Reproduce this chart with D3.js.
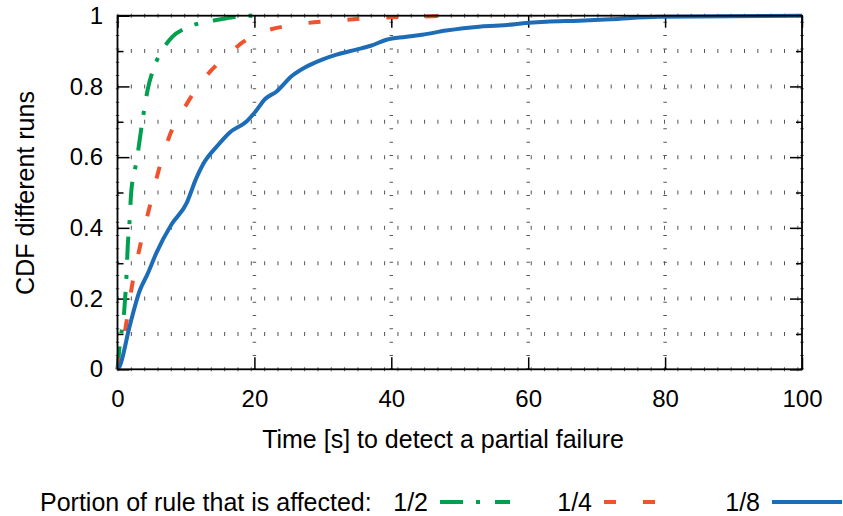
<!DOCTYPE html>
<html>
<head>
<meta charset="utf-8">
<title>CDF partial failure</title>
<script src="https://d3js.org/d3.v7.min.js"></script>
<style>
  body { margin: 0; background: #fff; }
  text { font-family: "Liberation Sans", Arial, sans-serif; }
</style>
</head>
<body>
<script>
// values: time [s] and CDF for each series
var halfTime = [0, 0.3, 1.0, 1.3, 1.5, 1.75, 2.0, 2.8, 3.7, 4.4, 5.4, 6.6, 8.0, 10.1, 13.0, 14.9, 17.4, 19.7];
var halfCdf  = [0, 0.065, 0.17, 0.26, 0.35, 0.415, 0.5, 0.59, 0.71, 0.79, 0.857, 0.904, 0.94, 0.966, 0.983, 0.989, 0.997, 1.0];

var quarterTime = [0, 0.4, 1.2, 2.2, 3.2, 4.7, 5.7, 7.6, 10.1, 13.0, 16.6, 18.3, 20.7, 26.1, 32.0, 37.8, 43.0, 49.0];
var quarterCdf  = [0, 0.03, 0.12, 0.245, 0.34, 0.46, 0.54, 0.66, 0.75, 0.83, 0.897, 0.925, 0.95, 0.975, 0.986, 0.994, 0.997, 1.0];

var eighthTime = [0, 0.3, 1.75, 3.2, 4.4, 5.7, 7.9, 10.1, 11.5, 12.5, 14.5, 16.4, 18.8, 20.2, 21.6, 23.2, 25.5, 27.5, 29.9, 32, 34.9, 37, 39.3, 42, 44.5, 48, 52.8, 55.8, 60.1, 62.6, 67.4, 72, 79, 100];
var eighthCdf  = [0, 0.008, 0.12, 0.22, 0.27, 0.33, 0.41, 0.47, 0.54, 0.58, 0.63, 0.67, 0.70, 0.73, 0.765, 0.785, 0.83, 0.855, 0.876, 0.89, 0.904, 0.915, 0.932, 0.94, 0.946, 0.958, 0.969, 0.972, 0.98, 0.983, 0.986, 0.99, 0.997, 1.0];

var xTicks = [0, 20, 40, 60, 80, 100];
var yTicks = [0, 0.2, 0.4, 0.6, 0.8, 1];
var yMinor = [0.1, 0.3, 0.5, 0.7, 0.9];
var yGrid = d3.range(0, 11).map(function(i) { return i / 10; });

var seriesNames = ["1/2", "1/4", "1/8"];
var seriesColors = ["#00a04e", "#f0522e", "#1c6cb8"];
var seriesDash = ["23,13,4,15", "12,27", null];

var w = 843, h = 516;
var pLeft = 117.5, pRight = 802, pTop = 15.7, pBottom = 369.3;

var svg = d3.select("body").append("svg")
    .attr("width", w)
    .attr("height", h);

var x = d3.scaleLinear().domain([0, 100]).range([pLeft, pRight]);
var y = d3.scaleLinear().domain([0, 1]).range([pBottom, pTop]);

// dotted grid: short marks spaced ~13px
var grid = svg.append("g").attr("stroke", "#555").attr("fill", "none");
grid.selectAll("line.h").data(yGrid).enter().append("line")
    .attr("class", "h")
    .attr("x1", pLeft).attr("x2", pRight)
    .attr("y1", function(d) { return y(d); })
    .attr("y2", function(d) { return y(d); })
    .attr("stroke-width", 4)
    .attr("stroke-dasharray", "1,12.33");
grid.selectAll("line.v").data(xTicks).enter().append("line")
    .attr("class", "v")
    .attr("y1", pBottom).attr("y2", pTop)
    .attr("x1", function(d) { return x(d); })
    .attr("x2", function(d) { return x(d); })
    .attr("stroke-width", 3.5)
    .attr("stroke-dasharray", "1,12.33");

// axes with inward ticks
function styleAxis(g) {
    g.attr("font-family", null).attr("font-size", null);
    g.select(".domain").remove();
    g.selectAll("line").attr("stroke", "#000").attr("stroke-width", 1.5);
    g.selectAll("text").attr("font-size", "24px").attr("fill", "#000");
}

svg.append("g")
    .attr("transform", "translate(0," + pBottom + ")")
    .call(d3.axisBottom(x).tickValues(xTicks).tickSize(-12).tickPadding(21).tickFormat(d3.format("d")))
    .call(styleAxis);
svg.append("g")
    .attr("transform", "translate(0," + pTop + ")")
    .call(d3.axisTop(x).tickValues(xTicks).tickSize(-12).tickFormat(""))
    .call(styleAxis);
svg.append("g")
    .attr("transform", "translate(" + pLeft + ",0)")
    .call(d3.axisLeft(y).tickValues(yTicks).tickSize(-12).tickPadding(14.5).tickFormat(d3.format("~g")))
    .call(styleAxis);
svg.append("g")
    .attr("transform", "translate(" + pRight + ",0)")
    .call(d3.axisRight(y).tickValues(yTicks).tickSize(-12).tickFormat(""))
    .call(styleAxis);
svg.append("g")
    .attr("transform", "translate(" + pLeft + ",0)")
    .call(d3.axisLeft(y).tickValues(yMinor).tickSize(-6).tickFormat(""))
    .call(styleAxis);
svg.append("g")
    .attr("transform", "translate(" + pRight + ",0)")
    .call(d3.axisRight(y).tickValues(yMinor).tickSize(-6).tickFormat(""))
    .call(styleAxis);

// curves
var series = [
    d3.zip(halfTime, halfCdf),
    d3.zip(quarterTime, quarterCdf),
    d3.zip(eighthTime, eighthCdf)
];
var line = d3.line()
    .curve(d3.curveMonotoneX)
    .x(function(d) { return x(d[0]); })
    .y(function(d) { return y(d[1]); });

svg.selectAll("path.curve").data(series).enter().append("path")
    .attr("class", "curve")
    .attr("d", line)
    .attr("fill", "none")
    .attr("stroke", function(d, i) { return seriesColors[i]; })
    .attr("stroke-width", 4)
    .attr("stroke-linejoin", "round")
    .attr("stroke-dasharray", function(d, i) { return seriesDash[i]; });

// border
svg.append("rect")
    .attr("x", pLeft).attr("y", pTop)
    .attr("width", pRight - pLeft).attr("height", pBottom - pTop)
    .attr("fill", "none").attr("stroke", "#000").attr("stroke-width", 1.8);

// axis titles
svg.append("text")
    .attr("x", 443).attr("y", 448)
    .attr("text-anchor", "middle")
    .attr("font-size", "25px")
    .text("Time [s] to detect a partial failure");
svg.append("text")
    .attr("transform", "translate(34,193) rotate(-90)")
    .attr("text-anchor", "middle")
    .attr("font-size", "25px")
    .text("CDF different runs");

// legend
var legY = 511;
svg.append("text")
    .attr("x", 40).attr("y", legY)
    .attr("font-size", "25px")
    .text("Portion of rule that is affected:");
var legEnds = [428, 592, 760];
var leg = svg.selectAll("g.leg").data(seriesNames).enter().append("g").attr("class", "leg");
leg.append("text")
    .attr("x", function(d, i) { return legEnds[i]; })
    .attr("y", legY)
    .attr("text-anchor", "end")
    .attr("font-size", "25px")
    .text(function(d) { return d; });
leg.append("line")
    .attr("x1", function(d, i) { return legEnds[i] + 12; })
    .attr("x2", function(d, i) { return legEnds[i] + 82; })
    .attr("y1", legY - 9).attr("y2", legY - 9)
    .attr("stroke", function(d, i) { return seriesColors[i]; })
    .attr("stroke-width", 4)
    .attr("stroke-dasharray", function(d, i) { return seriesDash[i]; });
</script>
</body>
</html>
